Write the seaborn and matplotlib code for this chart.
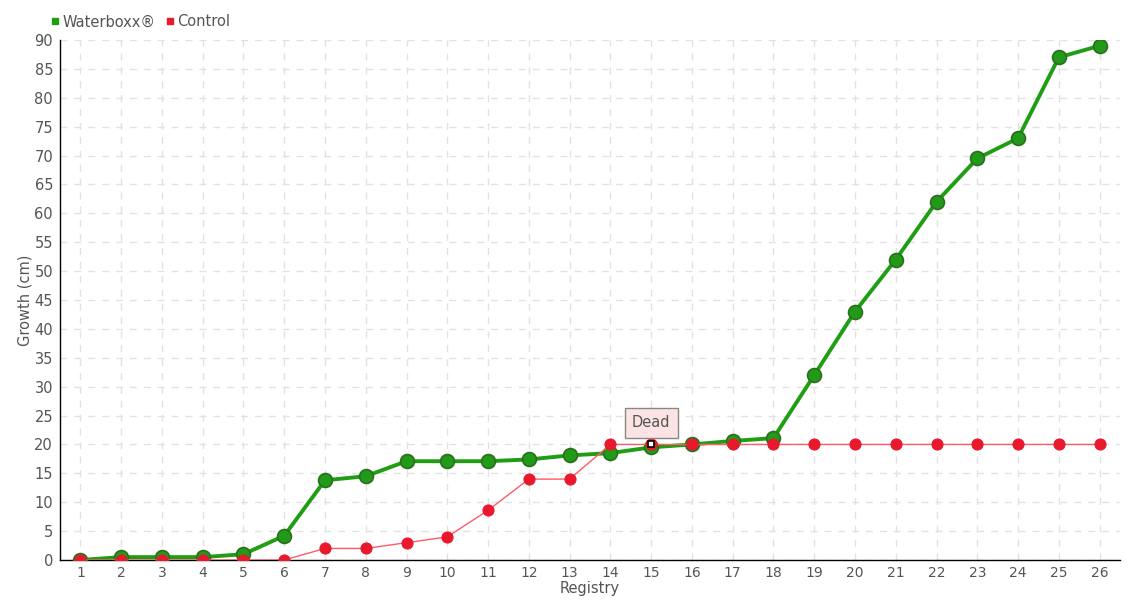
import numpy as np
import pandas as pd
import matplotlib.pyplot as plt
import seaborn as sns
from matplotlib.lines import Line2D

# registry numbers on the x axis
registry = list(range(1, 27))
# growth in cm
waterboxx = [0, 0.5, 0.5, 0.5, 1, 4.2, 13.8, 14.5, 17.1, 17.1, 17.1, 17.4, 18.1,
             18.5, 19.5, 20, 20.6, 21.1, 32, 43, 52, 62, 69.5, 73, 87, 89]
control = [0, 0, 0, 0, 0, 0, 2, 2, 3, 4, 8.6, 14, 14,
           20, 20, 20, 20, 20, 20, 20, 20, 20, 20, 20, 20, 20]
y_ticks = list(range(0, 95, 5))
dead_at = 15

sns.set_style('white')
plt.rcParams['font.family'] = ['DejaVu Sans']
txt = '#555555'

df = pd.DataFrame({'registry': registry * 2,
                   'growth': waterboxx + control,
                   'series': ['Waterboxx®'] * 26 + ['Control'] * 26})

fig = plt.figure(figsize=(11.4, 6), dpi=100)
ax = fig.add_axes([60 / 1140, 40 / 600, 1060 / 1140, 520 / 600])

# green line, red control markers drawn on top
sns.lineplot(data=df[df.series == 'Waterboxx®'], x='registry', y='growth', ax=ax,
             color='#1f9e14', linewidth=2.8, marker='o', markersize=10,
             markerfacecolor='#209a18', markeredgecolor='#2c6e1e',
             markeredgewidth=1.2, zorder=3)
sns.lineplot(data=df[df.series == 'Control'], x='registry', y='growth', ax=ax,
             color='#ff5a66', linewidth=1, marker='o', markersize=8,
             markerfacecolor='#e8192c', markeredgecolor='#e8192c', zorder=4)

ax.set_xlim(0.5, 26.5)
ax.set_ylim(0, 90)
ax.set_xticks(registry)
ax.set_yticks(y_ticks)
ax.tick_params(axis='both', colors='black', labelcolor=txt, labelsize=10.5,
               length=4, width=1, direction='out')
ax.tick_params(axis='x', pad=0, labelsize=10)
ax.tick_params(axis='y', pad=1)
ax.grid(True, linestyle=(0, (5, 5)), color='#e2e2e2', linewidth=1)
ax.set_axisbelow(True)
for s in ['top', 'right']:
    ax.spines[s].set_visible(False)
for s in ['left', 'bottom']:
    ax.spines[s].set_color('black')
    ax.spines[s].set_linewidth(1)
ax.set_xlabel('Registry', color=txt, fontsize=10.5, labelpad=1)
ax.set_ylabel('Growth (cm)', color=txt, fontsize=10.5, labelpad=1)

# "Dead" callout at registry 15
dead_val = control[registry.index(dead_at)]
ax.plot([dead_at], [dead_val], marker='s', markersize=5, markerfacecolor='white',
        markeredgecolor='black', markeredgewidth=1.2, zorder=6)
ax.annotate('Dead', xy=(dead_at, dead_val), xytext=(0, 15.5), textcoords='offset points',
            ha='center', va='center', color=txt, fontsize=10.5, zorder=7,
            bbox=dict(boxstyle='square,pad=0.5', fc='#fde4e4', ec='#888888', lw=1))

handles = [Line2D([], [], marker='s', linestyle='', color='#1f9e14', markersize=5),
           Line2D([], [], marker='s', linestyle='', color='#e8192c', markersize=5)]
fig.legend(handles, ['Waterboxx®', 'Control'], loc='center left',
           bbox_to_anchor=(36 / 1140, 1 - 22 / 600), ncol=2, frameon=False,
           handletextpad=0.1, columnspacing=0.6, fontsize=10.5, labelcolor=txt,
           handlelength=0.8)

fig.savefig('out.png', dpi=100)
